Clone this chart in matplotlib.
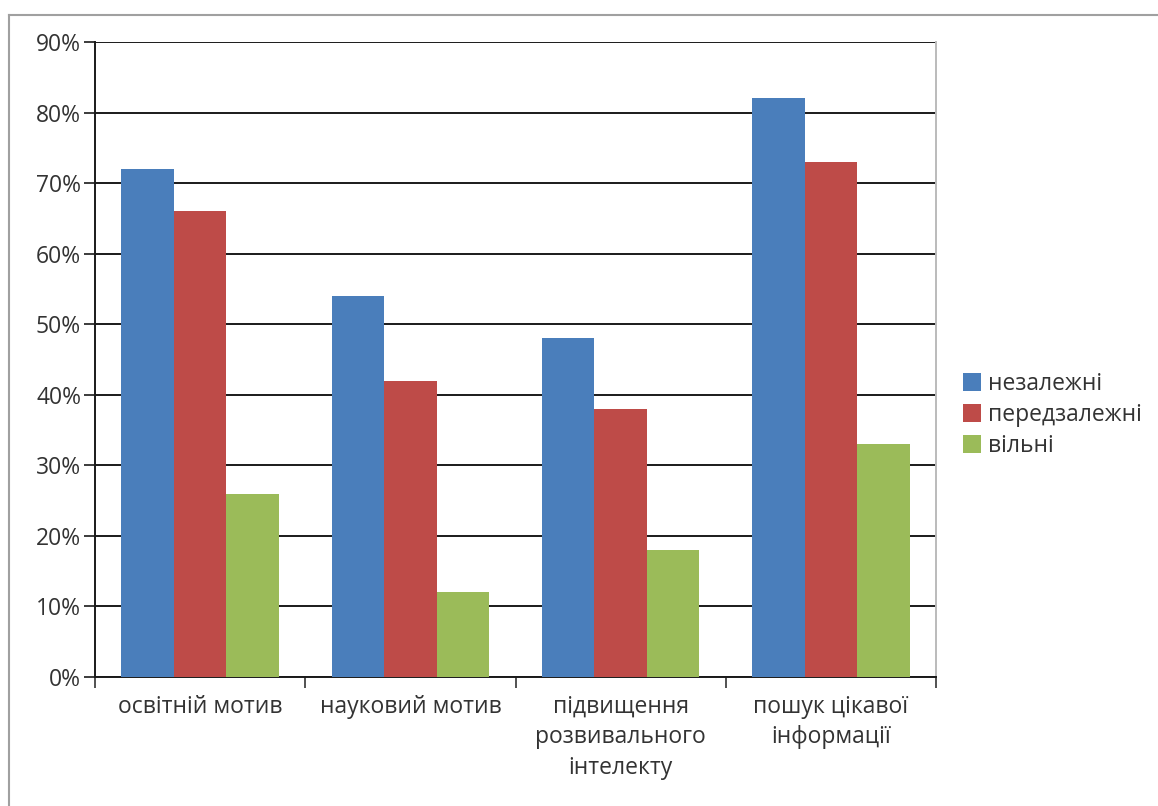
import numpy as np
import matplotlib.pyplot as plt
from matplotlib.lines import Line2D
from matplotlib.ticker import FuncFormatter

# chart data
categories = ["освітній мотив", "науковий мотив", "підвищення\nрозвивального\nінтелекту", "пошук цікавої\nінформації"]
seriesNames = ["незалежні", "передзалежні", "вільні"]
nezalezhni = [0.72, 0.54, 0.48, 0.82]
peredzalezhni = [0.66, 0.42, 0.38, 0.73]
vilni = [0.26, 0.12, 0.18, 0.33]

seriesValues = [nezalezhni, peredzalezhni, vilni]
seriesColors = ['#4A7EBB', '#BE4B48', '#9BBB59']

plt.rcParams['font.family'] = ['Open Sans', 'DejaVu Sans']
fontSize = 16.5

fig = plt.figure(figsize=(11.58, 8.06), dpi=100)
ax = fig.add_axes([95 / 1158, 1 - 677 / 806, (936 - 95) / 1158, (677 - 42) / 806])

x = np.arange(len(categories))
barWidth = 0.25
for i, (vals, col, name) in enumerate(zip(seriesValues, seriesColors, seriesNames)):
    ax.bar(x + (i - 1) * barWidth, vals, width=barWidth, color=col, label=name, zorder=3)

# axes limits / grid
ax.set_xlim(-0.5, len(categories) - 0.5)
ax.set_ylim(0, 0.9)
ax.set_yticks(np.arange(0, 0.91, 0.1))
ax.yaxis.set_major_formatter(FuncFormatter(lambda v, p: "{:.0f}%".format(v * 100)))
ax.grid(axis='y', color='#1a1a1a', linewidth=1.4, zorder=1)

# category ticks at boundaries, labels centred
ax.set_xticks(np.arange(-0.5, len(categories)), minor=False)
ax.set_xticklabels([])
ax.set_xticks(x, minor=True)
ax.set_xticklabels(categories, minor=True, fontsize=fontSize, color='#333333', linespacing=1.35)
ax.tick_params(axis='x', which='major', direction='out', length=8, width=1.2, color='#333333')
ax.tick_params(axis='x', which='minor', length=0, pad=13)
ax.tick_params(axis='y', direction='out', length=8, width=1.2, color='#1a1a1a',
               labelsize=fontSize, labelcolor='#333333', pad=2)

for s in ['left', 'bottom']:
    ax.spines[s].set_color('#1a1a1a')
    ax.spines[s].set_linewidth(1.4)
ax.spines['top'].set_visible(False)
ax.spines['right'].set_color('#bbbbbb')
ax.spines['right'].set_linewidth(1.4)
ax.set_axisbelow(True)

# legend on the right
handles, labels = ax.get_legend_handles_labels()
fig.legend(handles, labels, loc='center left', bbox_to_anchor=(942 / 1158, 1 - 415 / 806),
           frameon=False, fontsize=fontSize, handlelength=0.8, handleheight=0.8,
           handletextpad=0.3, labelspacing=0.3, labelcolor='#333333')

# outer chart border (top and left edges visible)
fig.add_artist(Line2D([9 / 1158, 1], [1 - 15 / 806, 1 - 15 / 806], transform=fig.transFigure,
                      color='#a0a0a0', linewidth=1.5))
fig.add_artist(Line2D([9 / 1158, 9 / 1158], [0, 1 - 15 / 806], transform=fig.transFigure,
                      color='#a0a0a0', linewidth=1.5))

plt.savefig('out.png', dpi=100)
plt.close()
